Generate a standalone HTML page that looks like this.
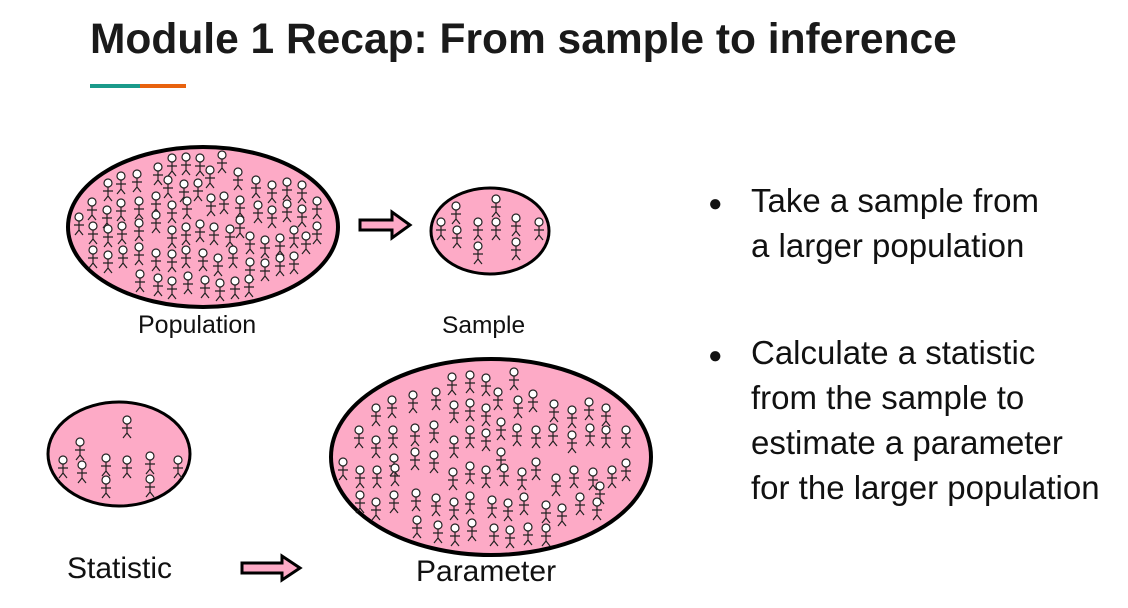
<!DOCTYPE html>
<html><head><meta charset="utf-8"><style>
body{margin:0;width:1128px;height:608px;background:#fff;overflow:hidden;position:relative;font-family:"Liberation Sans",sans-serif}
.t{position:absolute;white-space:nowrap;color:#111}
</style></head><body>
<div class="t" style="left:90px;top:16px;font-size:42.5px;font-weight:bold;color:#1a1a1a">Module 1 Recap: From sample to inference</div>
<div style="position:absolute;left:90px;top:84px;width:50px;height:4px;background:#1a9a8a"></div>
<div style="position:absolute;left:140px;top:84px;width:46px;height:4px;background:#e8620e"></div>
<svg width="1128" height="608" style="position:absolute;left:0;top:0">
<defs>
<g id="p" fill="#fff" stroke="#222" stroke-width="1.2"><circle cx="0" cy="0" r="4"/><path d="M0 4V13M-5 8H5M0 13L-4 18M0 13L4 18" fill="none"/></g>
</defs>
<ellipse cx="203" cy="227" rx="135" ry="80" fill="#fdaac6" stroke="#000" stroke-width="4"/>
<ellipse cx="490" cy="231" rx="59" ry="43" fill="#fdaac6" stroke="#000" stroke-width="3"/>
<ellipse cx="119" cy="454" rx="71" ry="52" fill="#fdaac6" stroke="#000" stroke-width="3"/>
<ellipse cx="491" cy="457" rx="160" ry="98" fill="#fdaac6" stroke="#000" stroke-width="4"/>
<path d="M360 220H392V212L410 225L392 238V230H360Z" fill="#fdaac6" stroke="#000" stroke-width="3"/>
<path d="M242 563H282V556L300 568L282 580V573H242Z" fill="#fdaac6" stroke="#000" stroke-width="3"/>
<g>
<use href="#p" x="172" y="158"/><use href="#p" x="186" y="157"/><use href="#p" x="200" y="158"/><use href="#p" x="222" y="155"/>
<use href="#p" x="158" y="167"/><use href="#p" x="210" y="170"/><use href="#p" x="238" y="172"/><use href="#p" x="168" y="180"/>
<use href="#p" x="108" y="183"/><use href="#p" x="121" y="176"/><use href="#p" x="137" y="174"/><use href="#p" x="184" y="184"/><use href="#p" x="198" y="183"/><use href="#p" x="256" y="180"/><use href="#p" x="272" y="185"/><use href="#p" x="287" y="182"/><use href="#p" x="302" y="185"/>
<use href="#p" x="92" y="202"/><use href="#p" x="107" y="210"/><use href="#p" x="121" y="203"/><use href="#p" x="139" y="201"/><use href="#p" x="156" y="196"/><use href="#p" x="172" y="205"/><use href="#p" x="187" y="201"/><use href="#p" x="211" y="198"/><use href="#p" x="224" y="196"/><use href="#p" x="240" y="200"/><use href="#p" x="258" y="205"/><use href="#p" x="272" y="210"/><use href="#p" x="287" y="204"/><use href="#p" x="302" y="209"/><use href="#p" x="317" y="201"/>
<use href="#p" x="79" y="217"/><use href="#p" x="93" y="226"/><use href="#p" x="108" y="229"/><use href="#p" x="122" y="226"/><use href="#p" x="139" y="223"/><use href="#p" x="156" y="215"/><use href="#p" x="172" y="230"/><use href="#p" x="186" y="227"/><use href="#p" x="200" y="224"/><use href="#p" x="214" y="227"/><use href="#p" x="230" y="229"/><use href="#p" x="240" y="220"/><use href="#p" x="250" y="236"/><use href="#p" x="265" y="240"/><use href="#p" x="280" y="238"/><use href="#p" x="294" y="230"/><use href="#p" x="306" y="236"/><use href="#p" x="317" y="226"/>
<use href="#p" x="93" y="250"/><use href="#p" x="108" y="255"/><use href="#p" x="123" y="250"/><use href="#p" x="139" y="247"/><use href="#p" x="156" y="253"/><use href="#p" x="172" y="254"/><use href="#p" x="186" y="250"/><use href="#p" x="203" y="253"/><use href="#p" x="218" y="258"/><use href="#p" x="233" y="250"/><use href="#p" x="250" y="262"/><use href="#p" x="265" y="263"/><use href="#p" x="280" y="258"/><use href="#p" x="294" y="256"/>
<use href="#p" x="140" y="274"/><use href="#p" x="158" y="278"/><use href="#p" x="172" y="281"/><use href="#p" x="188" y="276"/><use href="#p" x="205" y="280"/><use href="#p" x="220" y="283"/><use href="#p" x="235" y="281"/><use href="#p" x="249" y="279"/>
</g>
<g>
<use href="#p" x="456" y="206"/><use href="#p" x="496" y="199"/><use href="#p" x="441" y="222"/><use href="#p" x="457" y="230"/><use href="#p" x="478" y="222"/><use href="#p" x="496" y="222"/><use href="#p" x="516" y="218"/><use href="#p" x="539" y="222"/><use href="#p" x="478" y="246"/><use href="#p" x="516" y="242"/>
</g>
<g>
<use href="#p" x="80" y="442"/><use href="#p" x="127" y="420"/><use href="#p" x="63" y="460"/><use href="#p" x="82" y="465"/><use href="#p" x="106" y="458"/><use href="#p" x="127" y="460"/><use href="#p" x="150" y="456"/><use href="#p" x="178" y="460"/><use href="#p" x="106" y="480"/><use href="#p" x="150" y="479"/>
</g>
<g>
<use href="#p" x="452" y="377"/><use href="#p" x="470" y="375"/><use href="#p" x="486" y="378"/><use href="#p" x="514" y="372"/>
<use href="#p" x="436" y="392"/><use href="#p" x="498" y="392"/><use href="#p" x="533" y="394"/><use href="#p" x="413" y="395"/><use href="#p" x="392" y="400"/><use href="#p" x="376" y="408"/><use href="#p" x="454" y="405"/><use href="#p" x="470" y="403"/><use href="#p" x="486" y="408"/><use href="#p" x="518" y="400"/><use href="#p" x="554" y="404"/><use href="#p" x="572" y="410"/><use href="#p" x="589" y="402"/><use href="#p" x="606" y="408"/>
<use href="#p" x="359" y="430"/><use href="#p" x="376" y="440"/><use href="#p" x="393" y="430"/><use href="#p" x="415" y="428"/><use href="#p" x="434" y="425"/><use href="#p" x="454" y="440"/><use href="#p" x="470" y="430"/><use href="#p" x="486" y="433"/><use href="#p" x="501" y="422"/><use href="#p" x="517" y="428"/><use href="#p" x="536" y="430"/><use href="#p" x="553" y="428"/><use href="#p" x="572" y="435"/><use href="#p" x="590" y="428"/><use href="#p" x="606" y="430"/><use href="#p" x="626" y="430"/>
<use href="#p" x="343" y="462"/><use href="#p" x="434" y="455"/><use href="#p" x="394" y="458"/><use href="#p" x="415" y="452"/><use href="#p" x="501" y="452"/><use href="#p" x="536" y="462"/>
<use href="#p" x="360" y="470"/><use href="#p" x="377" y="470"/><use href="#p" x="395" y="468"/><use href="#p" x="453" y="472"/><use href="#p" x="470" y="466"/><use href="#p" x="486" y="470"/><use href="#p" x="504" y="468"/><use href="#p" x="522" y="472"/><use href="#p" x="556" y="478"/><use href="#p" x="574" y="470"/><use href="#p" x="593" y="472"/><use href="#p" x="612" y="470"/><use href="#p" x="626" y="463"/><use href="#p" x="600" y="486"/>
<use href="#p" x="360" y="495"/><use href="#p" x="376" y="502"/><use href="#p" x="394" y="495"/><use href="#p" x="416" y="493"/><use href="#p" x="436" y="498"/><use href="#p" x="454" y="502"/><use href="#p" x="470" y="496"/><use href="#p" x="492" y="500"/><use href="#p" x="508" y="503"/><use href="#p" x="524" y="497"/><use href="#p" x="546" y="505"/><use href="#p" x="562" y="508"/><use href="#p" x="580" y="497"/><use href="#p" x="597" y="502"/>
<use href="#p" x="417" y="520"/><use href="#p" x="438" y="525"/><use href="#p" x="455" y="528"/><use href="#p" x="472" y="523"/><use href="#p" x="494" y="528"/><use href="#p" x="510" y="530"/><use href="#p" x="528" y="527"/><use href="#p" x="546" y="528"/>
</g>
</svg>
<div class="t" style="left:138px;top:311px;font-size:25px">Population</div>
<div class="t" style="left:442px;top:312px;font-size:24.5px">Sample</div>
<div class="t" style="left:67px;top:552px;font-size:30px">Statistic</div>
<div class="t" style="left:416px;top:555px;font-size:30px">Parameter</div>
<div class="t" style="left:708px;top:181px;font-size:24px;line-height:45px">●</div>
<div class="t" style="left:751px;top:178px;font-size:33px;line-height:45px">Take a sample from<br>a larger population</div>
<div class="t" style="left:708px;top:333px;font-size:24px;line-height:45px">●</div>
<div class="t" style="left:751px;top:330px;font-size:33px;line-height:45px">Calculate a statistic<br>from the sample to<br>estimate a parameter<br>for the larger population</div>
</body></html>
